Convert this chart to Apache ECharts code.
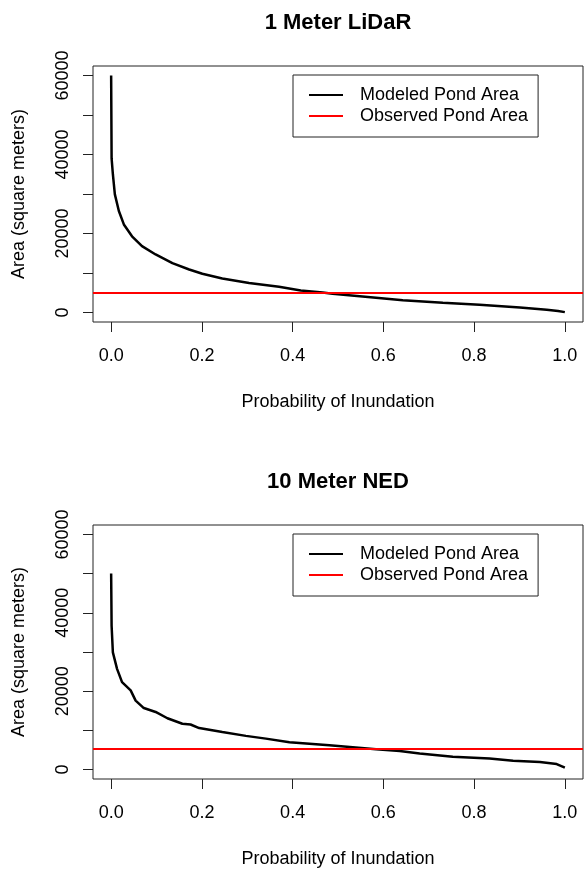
<!DOCTYPE html>
<html>
<head>
<meta charset="utf-8">
<script src="https://cdn.jsdelivr.net/npm/echarts@6/dist/echarts.min.js"></script>
<style>
html,body{margin:0;padding:0;background:#fff;}
#chart{width:584px;height:869px;}
</style>
</head>
<body>
<div id="chart"></div>
<script>
// ---- data ----
var panelTitles = ['1 Meter LiDaR', '10 Meter NED'];
var seriesNames = ['Modeled Pond Area', 'Observed Pond Area'];
var xTitle = 'Probability of Inundation';
var yTitle = 'Area (square meters)';
var xTicks = [0, 0.2, 0.4, 0.6, 0.8, 1.0];
var xTickLabels = ['0.0', '0.2', '0.4', '0.6', '0.8', '1.0'];
var yTicks = [0, 10000, 20000, 30000, 40000, 50000, 60000];
var yLabelTicks = [0, 20000, 40000, 60000];

var lidarProb = [0, 0.001, 0.0038, 0.0082, 0.017, 0.028, 0.046, 0.068, 0.098, 0.135, 0.172, 0.201, 0.245, 0.304, 0.37, 0.418, 0.466, 0.488, 0.554, 0.643, 0.731, 0.812, 0.901, 0.96, 0.985, 1.0];
var lidarArea = [60000, 39000, 35000, 29900, 25700, 22300, 19300, 16800, 14700, 12500, 10900, 9800, 8600, 7450, 6500, 5600, 5080, 4750, 4070, 3100, 2450, 1950, 1250, 700, 400, 100];

var nedProb = [0, 0.001, 0.0038, 0.013, 0.024, 0.043, 0.054, 0.072, 0.098, 0.124, 0.157, 0.175, 0.194, 0.245, 0.297, 0.341, 0.393, 0.481, 0.584, 0.636, 0.68, 0.753, 0.834, 0.886, 0.945, 0.982, 1.0];
var nedArea = [50000, 36700, 29900, 25700, 22300, 20200, 17600, 15700, 14700, 13100, 11700, 11500, 10600, 9600, 8600, 7900, 6950, 6200, 5200, 4750, 4100, 3250, 2800, 2250, 1950, 1400, 500];

var observedArea = [5100, 5250];

// ---- build ----
function pairs(xs, ys) { return xs.map(function (x, i) { return [x, ys[i]]; }); }
var curves = [pairs(lidarProb, lidarArea), pairs(nedProb, nedArea)];

var FONT = '"Liberation Sans", Arial, sans-serif';
var panelTops = [66, 525];
var panelHeights = [256, 257];

var option = {
  backgroundColor: '#fff',
  animation: false,
  title: [], grid: [], xAxis: [], yAxis: [], legend: [], series: []
};

for (var i = 0; i < 2; i++) {
  option.title.push({
    text: panelTitles[i], left: 338, top: panelTops[i] - 54, textAlign: 'center', padding: 0,
    textStyle: { fontFamily: FONT, fontSize: 22, fontWeight: 'bold', color: '#000' }
  });
  option.grid.push({
    left: 93, top: panelTops[i], width: 490, height: panelHeights[i],
    show: true, borderColor: '#222', borderWidth: 1, backgroundColor: 'transparent'
  });
  option.xAxis.push({
    type: 'value', gridIndex: i, min: -0.04, max: 1.04,
    name: xTitle, nameLocation: 'middle', nameGap: 71,
    nameTextStyle: { fontFamily: FONT, fontSize: 18, color: '#000' },
    axisLine: { show: false, onZero: false },
    axisTick: { show: true, inside: false, length: 10, customValues: xTicks, lineStyle: { color: '#222', width: 1 } },
    axisLabel: {
      show: true, margin: 25, customValues: xTicks, fontFamily: FONT, fontSize: 18, color: '#000',
      formatter: function (v) { var k = xTicks.indexOf(Math.round(v * 10) / 10); return k >= 0 ? xTickLabels[k] : ''; }
    },
    splitLine: { show: false }
  });
  option.yAxis.push({
    type: 'value', gridIndex: i, min: -2400, max: 62400,
    name: yTitle, nameLocation: 'middle', nameGap: 65, nameRotate: 90,
    nameTextStyle: { fontFamily: FONT, fontSize: 18, color: '#000' },
    axisLine: { show: false, onZero: false },
    axisTick: { show: true, inside: false, length: 10, customValues: yTicks, lineStyle: { color: '#222', width: 1 } },
    axisLabel: {
      show: true, rotate: 90, margin: 21, customValues: yLabelTicks, fontFamily: FONT, fontSize: 18, color: '#000',
      formatter: function (v) { return String(Math.round(v)); }
    },
    splitLine: { show: false }
  });
  option.legend.push({
    orient: 'vertical', left: 293, top: panelTops[i] + 9,
    data: [
      { name: seriesNames[0], icon: 'rect' },
      { name: seriesNames[1], icon: 'rect' }
    ],
    itemWidth: 34, itemHeight: 2, itemGap: 1,
    padding: [10, 10, 11, 16],
    borderColor: '#222', borderWidth: 1,
    selectedMode: false,
    textStyle: { fontFamily: FONT, fontSize: 18, color: '#000', lineHeight: 20, padding: [0, 0, 0, 12] }
  });
  option.series.push({
    name: seriesNames[0], type: 'line', xAxisIndex: i, yAxisIndex: i,
    data: curves[i], showSymbol: false, symbol: 'none',
    lineStyle: { color: '#000', width: 2.5 }, itemStyle: { color: '#000' }, z: 3
  });
  option.series.push({
    name: seriesNames[1], type: 'line', xAxisIndex: i, yAxisIndex: i,
    data: [], symbol: 'none',
    lineStyle: { color: '#ff0000', width: 2 }, itemStyle: { color: '#ff0000' },
    markLine: {
      silent: true, symbol: 'none', label: { show: false },
      lineStyle: { color: '#ff0000', width: 2, type: 'solid' },
      data: [{ yAxis: observedArea[i] }]
    }, z: 2
  });
}

var chart = echarts.init(document.getElementById('chart'), null, { renderer: 'canvas' });
chart.setOption(option);
</script>
</body>
</html>
